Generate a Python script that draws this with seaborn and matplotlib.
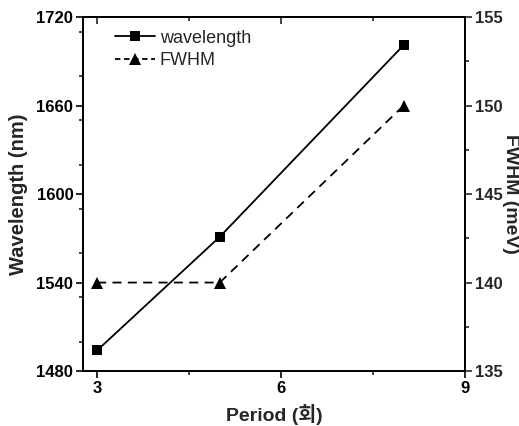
import matplotlib.pyplot as plt
import seaborn as sns
import pandas as pd
from matplotlib.ticker import MultipleLocator
from matplotlib.lines import Line2D

period = [3, 5, 8]
wavelength = [1494, 1571, 1701]
fwhm = [140, 140, 150]

x_ticks = [3, 6, 9]
wl_ticks = [1480, 1540, 1600, 1660, 1720]
fwhm_ticks = [135, 140, 145, 150, 155]

sns.set_style("ticks")
plt.rcParams["font.family"] = ["Liberation Sans", "Noto Sans CJK KR", "DejaVu Sans"]

df = pd.DataFrame({"Period": period, "Wavelength": wavelength, "FWHM": fwhm})

fig = plt.figure(figsize=(5.19, 4.26), dpi=100)
ax = fig.add_axes([0.160, 0.129, 0.736, 0.831])
ax2 = ax.twinx()

sns.lineplot(data=df, x="Period", y="Wavelength", ax=ax, color="black", linewidth=1.3,
             marker="s", markersize=7.5, markeredgewidth=0, legend=False)
sns.lineplot(data=df, x="Period", y="FWHM", ax=ax2, color="black", linewidth=1.3,
             linestyle=(0, (5, 3.5)), marker="^", markersize=8.5, markeredgewidth=0, legend=False)

ax.set_xlim(2.77, 9)
ax.set_ylim(1480, 1720)
ax2.set_ylim(135, 155)

ax.set_xticks(x_ticks)
ax.xaxis.set_minor_locator(MultipleLocator(1.5))
ax.set_yticks(wl_ticks)
ax.yaxis.set_minor_locator(MultipleLocator(30))
ax2.set_yticks(fwhm_ticks)
ax2.yaxis.set_minor_locator(MultipleLocator(2.5))

for a in (ax, ax2):
    for s in a.spines.values():
        s.set_linewidth(1.3)
        s.set_visible(True)
        s.set_color("black")
ax.tick_params(axis="both", which="major", length=5, width=1.2, labelsize=12, colors="black", pad=2)
ax.tick_params(axis="both", which="minor", length=3, width=1.2)
ax2.tick_params(axis="y", which="major", length=5, width=1.2, labelsize=12, pad=2)
ax2.tick_params(axis="y", which="minor", length=3, width=1.2)

top = ax.secondary_xaxis("top")
top.set_xticks(x_ticks)
top.xaxis.set_minor_locator(MultipleLocator(1.5))
top.tick_params(which="major", direction="in", length=5, width=1.2, labeltop=False)
top.tick_params(which="minor", direction="in", length=3, width=1.2)
top.spines["top"].set_linewidth(1.3)

for lbl in ax.get_xticklabels() + ax.get_yticklabels() + ax2.get_yticklabels():
    lbl.set_fontweight("bold")

ax.set_xlabel("Period (회)", fontsize=14, fontweight="bold", labelpad=6)
ax.set_ylabel("Wavelength (nm)", fontsize=14.5, fontweight="bold", labelpad=6)
ax2.set_ylabel("FWHM (meV)", fontsize=14, fontweight="bold", rotation=270, labelpad=12)

handles = [
    Line2D([], [], color="black", linewidth=1.3, marker="s", markersize=7.5, markeredgewidth=0),
    Line2D([], [], color="black", linewidth=1.3, linestyle=(0, (3, 2)), marker="^", markersize=8.5, markeredgewidth=0),
]
ax.legend(handles, ["wavelength", "FWHM"], loc="upper left", frameon=False,
          handlelength=2.2, borderaxespad=0.3, bbox_to_anchor=(0.05, 1.0), handletextpad=0.3,
          labelspacing=0.3, prop={"size": 13})

fig.savefig("out.png", dpi=100)
